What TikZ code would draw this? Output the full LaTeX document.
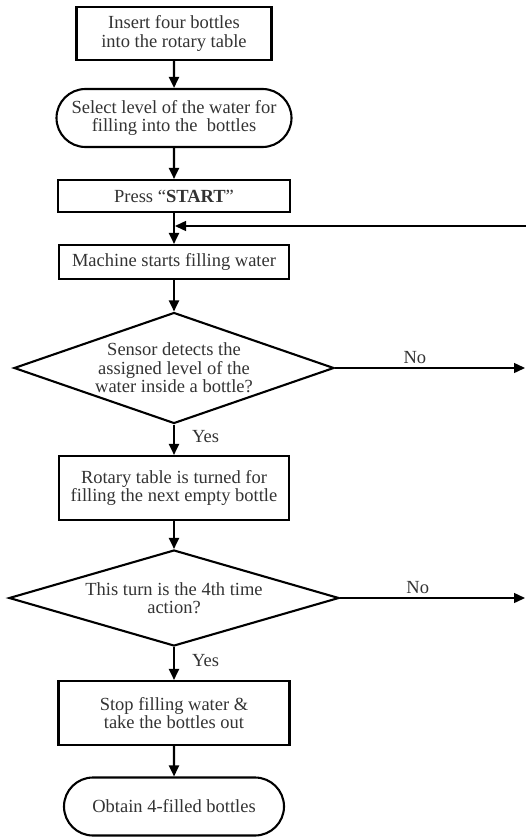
\documentclass[tikz,border=0pt]{standalone}
\usepackage{fontspec}
\setmainfont{Liberation Serif}
\usetikzlibrary{shapes.geometric, shapes.misc, arrows.meta}

\begin{document}
\begin{tikzpicture}[x=1pt, y=-1pt, line width=2.1pt,
  font=\fontsize{18.5}{18.5}\selectfont,
  >={Triangle[length=11pt, width=10pt]},
  proc/.style={draw, rectangle, align=center, inner sep=0pt, text=black!80},
  term/.style={draw, rounded rectangle, align=center, inner sep=0pt, text=black!80},
  decide/.style={draw, diamond, aspect=2.9, align=center, inner sep=0pt, text=black!80},
  lbl/.style={draw=none, inner sep=1pt, text=black!80}]
\useasboundingbox (0, 0) rectangle (526, 837);
%Steps
\node[proc, minimum width=195, minimum height=53] (insert) at (174, 33.5) {Insert four bottles\\into the rotary table};
\node[term, minimum width=235, minimum height=58] (level) at (174, 118) {Select level of the water for\\filling into the\ \ bottles};
\node[proc, minimum width=232, minimum height=32] (press) at (174, 196) {Press ``\textbf{START}''};
\node[proc, minimum width=230, minimum height=34] (fill) at (174, 262) {Machine starts filling water};
\node[decide, minimum width=320, minimum height=111] (sensor) at (174, 368) {Sensor detects the\\assigned level of the\\water inside a bottle?};
\node[proc, minimum width=230, minimum height=64] (turn) at (174, 488) {Rotary table is turned for\\filling the next empty bottle};
\node[decide, minimum width=330, minimum height=96] (count) at (174, 598) {This turn is the 4th time\\action?};
\node[proc, minimum width=231, minimum height=64] (stop) at (174, 713) {Stop filling water \&\\take the bottles out};
\node[term, minimum width=220, minimum height=58] (done) at (174, 806.5) {Obtain 4-filled bottles};
%Loose ends
\coordinate (back) at (526, 226);
\coordinate (no1) at (525, 368);
\coordinate (no2) at (525, 598);
%Arrows
\draw[->] (insert) -- (level);
\draw[->] (level) -- (press);
\draw[->] (press) -- (fill);
\draw[->, line width=1.4pt] (back) -- ([xshift=1pt]back -| press.south);
\draw[->] (fill) -- (sensor);
\draw[->, line width=1.4pt] (sensor.east) -- node[lbl, above=3pt, pos=0.42] {No} (no1);
\draw[->] (sensor) -- node[lbl, right=16pt, pos=0.4] {Yes} (turn);
\draw[->] (turn) -- (count);
\draw[->, line width=1.4pt] (count.east) -- node[lbl, above=3pt, pos=0.42] {No} (no2);
\draw[->] (count) -- node[lbl, right=16pt, pos=0.4] {Yes} (stop);
\draw[->] (stop) -- (done);
\end{tikzpicture}
\end{document}
